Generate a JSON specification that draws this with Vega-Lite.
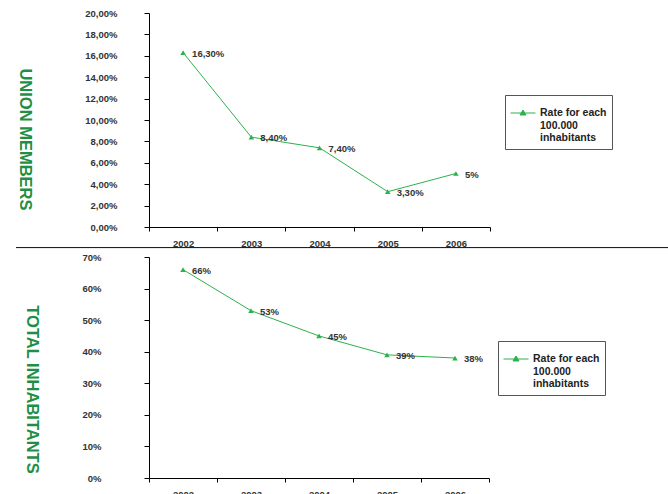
{
  "$schema": "https://vega.github.io/schema/vega-lite/v6.json",
  "padding": {"left": 15, "top": 8, "right": 0, "bottom": 0},
  "spacing": -1,
  "config": {
    "font": "Liberation Sans",
    "view": {"stroke": null},
    "locale": {"number": {"decimal": ",", "thousands": ".", "grouping": [3], "currency": ["", "€"]}},
    "axis": {
      "labelFont": "Liberation Sans", "labelFontWeight": "bold", "labelFontSize": 9.5, "labelColor": "#333",
      "domainColor": "#000", "tickColor": "#000", "grid": false,
      "titleFont": "Liberation Sans", "titleFontWeight": "bold", "titleFontSize": 16.5, "titleColor": "#1e8f44"
    },
    "legend": {
      "orient": "none", "strokeColor": "#555", "padding": 5,
      "labelFont": "Liberation Sans", "labelFontSize": 10.5, "labelLineHeight": 13.5, "labelFontWeight": "bold", "labelColor": "#222",
      "symbolType": "M-1,0H1M-0.24,0.16L0,-0.24L0.24,0.16Z", "symbolSize": 625, "symbolStrokeWidth": 1,
      "symbolFillColor": "#2bb24c", "symbolStrokeColor": "#2bb24c", "labelLimit": 300
    }
  },
  "vconcat": [
    {
      "width": 341, "height": 214,
      "data": {"values": [
        {"year": "2002", "rate": 0.163, "label": "16,30%"},
        {"year": "2003", "rate": 0.084, "label": "8,40%"},
        {"year": "2004", "rate": 0.074, "label": "7,40%"},
        {"year": "2005", "rate": 0.033, "label": "3,30%"},
        {"year": "2006", "rate": 0.05, "label": "5%"}
      ]},
      "encoding": {
        "x": {"field": "year", "type": "ordinal", "bandPosition": 0.5,
          "scale": {"type": "band", "paddingInner": 0, "paddingOuter": 0},
          "axis": {"title": null, "labelAngle": 0, "tickBand": "extent", "labelPadding": 7, "tickSize": 4}},
        "y": {"field": "rate", "type": "quantitative", "scale": {"domain": [0, 0.2]},
          "axis": {"format": ".2%", "values": [0, 0.02, 0.04, 0.06, 0.08, 0.1, 0.12, 0.14, 0.16, 0.18, 0.2],
            "title": "UNION MEMBERS", "titleAngle": 90, "titleX": -125, "titleY": 126, "titleBaseline": "middle", "titleAlign": "center",
            "labelPadding": 27, "tickSize": 5}}
      },
      "layer": [
        {"mark": {"type": "line", "strokeWidth": 1},
         "encoding": {"color": {"datum": "Rate for each 100.000 inhabitants", "scale": {"range": ["#2bb24c"]},
           "legend": {"title": null, "legendX": 356, "legendY": 82,
             "labelExpr": "['Rate for each', '100.000', 'inhabitants']"}}}},
        {"mark": {"type": "point", "shape": "triangle-up", "filled": true, "size": 30, "opacity": 1},
         "encoding": {"color": {"datum": "Rate for each 100.000 inhabitants"}}},
        {"mark": {"type": "text", "align": "left", "baseline": "middle", "dx": 9, "dy": 1, "fontWeight": "bold", "fontSize": 9.5, "color": "#333"},
         "encoding": {"text": {"field": "label"}}}
      ]
    },
    {
      "width": 340, "height": 221,
      "data": {"values": [
        {"year": "2002", "rate": 0.66, "label": "66%"},
        {"year": "2003", "rate": 0.53, "label": "53%"},
        {"year": "2004", "rate": 0.45, "label": "45%"},
        {"year": "2005", "rate": 0.39, "label": "39%"},
        {"year": "2006", "rate": 0.38, "label": "38%"}
      ]},
      "encoding": {
        "y": {"field": "rate", "type": "quantitative", "scale": {"domain": [0, 0.7]},
          "axis": {"format": ".0%", "values": [0, 0.1, 0.2, 0.3, 0.4, 0.5, 0.6, 0.7],
            "title": "TOTAL INHABITANTS", "titleAngle": 90, "titleX": -118, "titleY": 132, "titleBaseline": "middle", "titleAlign": "center",
            "labelPadding": 43, "tickSize": 5}}
      },
      "layer": [
        {
          "encoding": {
            "x": {"field": "year", "type": "ordinal", "bandPosition": 0.5,
              "scale": {"type": "band", "paddingInner": 0, "paddingOuter": 0},
              "axis": {"title": null, "labelAngle": 0, "tickBand": "extent", "labelPadding": 7, "tickSize": 4}}
          },
          "layer": [
            {"mark": {"type": "line", "strokeWidth": 1},
             "encoding": {"color": {"datum": "Rate for each 100.000 inhabitants", "scale": {"range": ["#2bb24c"]},
               "legend": {"title": null, "legendX": 349, "legendY": 84,
                 "labelExpr": "['Rate for each', '100.000', 'inhabitants']"}}}},
            {"mark": {"type": "point", "shape": "triangle-up", "filled": true, "size": 30, "opacity": 1},
             "encoding": {"color": {"datum": "Rate for each 100.000 inhabitants"}}},
            {"mark": {"type": "text", "align": "left", "baseline": "middle", "dx": 9, "dy": 1, "fontWeight": "bold", "fontSize": 9.5, "color": "#333"},
             "encoding": {"text": {"field": "label"}}}
          ]
        },
        {"mark": {"type": "rule", "color": "#222", "strokeWidth": 1},
         "encoding": {
           "x": {"datum": -0.39, "type": "quantitative", "scale": {"domain": [0, 1]}, "axis": null},
           "x2": {"datum": 1.53},
           "y": {"datum": 0.730}}}
      ],
      "resolve": {"scale": {"x": "independent"}}
    }
  ],
  "resolve": {"scale": {"color": "independent"}, "legend": {"color": "independent"}}
}
